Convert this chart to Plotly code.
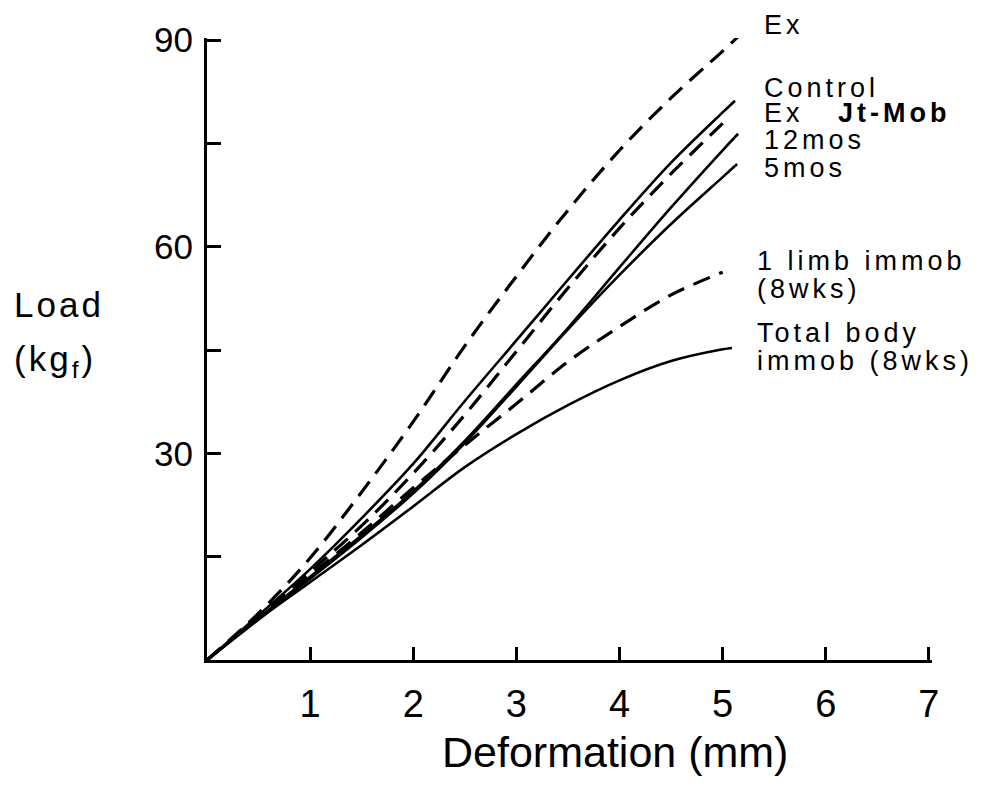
import plotly.graph_objects as go

# ---- data ----
ex_x = [0, 0.5, 1, 1.5, 2, 2.5, 3, 3.5, 4, 4.5, 5, 5.2]
ex_y = [0, 6.8, 14.8, 24.4, 34.6, 45.6, 55.7, 65.3, 74.0, 81.6, 88.4, 91.2]

control_x = [0, 0.5, 1, 1.5, 2, 2.5, 3, 3.5, 4, 4.5, 5, 5.12]
control_y = [0, 6.5, 13.2, 20.6, 28.5, 37.6, 46.4, 55.2, 63.9, 72.2, 79.5, 81.2]

exjt_x = [0, 0.5, 1, 1.5, 2, 2.5, 3, 3.5, 4, 4.5, 5, 5.04]
exjt_y = [0, 6.4, 12.8, 19.5, 27.1, 35.6, 44.8, 54.0, 62.7, 70.6, 77.9, 78.5]

m12_x = [0, 0.5, 1, 1.5, 2, 2.5, 3, 3.5, 4, 4.5, 5, 5.15]
m12_y = [0, 6.1, 12.1, 18.1, 24.5, 31.8, 40.0, 48.2, 57.0, 65.7, 74.0, 76.4]

m5_x = [0, 0.5, 1, 1.5, 2, 2.5, 3, 3.5, 4, 4.5, 5, 5.14]
m5_y = [0, 5.9, 11.8, 17.8, 24.2, 31.5, 39.7, 48.0, 55.9, 63.3, 70.1, 72.0]

limb_x = [0, 0.5, 1, 1.5, 2, 2.5, 3, 3.5, 4, 4.5, 5]
limb_y = [0, 6.3, 12.3, 18.5, 25.0, 31.2, 37.2, 43.3, 48.4, 53.0, 56.3]

total_x = [0, 0.5, 1, 1.5, 2, 2.5, 3, 3.5, 4, 4.5, 5, 5.09]
total_y = [0, 5.9, 11.3, 16.7, 22.3, 28.0, 32.8, 37.0, 40.6, 43.4, 45.1, 45.3]

x_tickvals = [1, 2, 3, 4, 5, 6, 7]
x_ticktext = ["1", "2", "3", "4", "5", "6", "7"]
y_tickvals = [15, 30, 45, 60, 75, 90]
y_ticktext = ["", "30", "", "60", "", "90"]

# curve labels: (text, paper x, paper y)
labels = [
    ("Ex", 0.766, 1.021),
    ("Control", 0.766, 0.920),
    ("Ex\u00a0\u00a0\u00a0<b>Jt-Mob</b>", 0.766, 0.879),
    ("12mos", 0.766, 0.836),
    ("5mos", 0.766, 0.791),
    ("1 limb immob", 0.756, 0.641),
    ("(8wks)", 0.756, 0.596),
    ("Total body", 0.756, 0.526),
    ("immob (8wks)", 0.756, 0.481),
]

FONT = "Liberation Sans, Arial, Helvetica, sans-serif"
DASH = "18px,10px"

fig = go.Figure()

def add(x, y, dashed=False, width=2.6):
    fig.add_trace(go.Scatter(
        x=x, y=y, mode="lines",
        line=dict(color="black", width=width, shape="spline", smoothing=1.0,
                  dash=DASH if dashed else "solid"),
        showlegend=False, hoverinfo="skip"))

add(total_x, total_y)
add(limb_x, limb_y, dashed=True, width=3.2)
add(m5_x, m5_y)
add(m12_x, m12_y)
add(exjt_x, exjt_y, dashed=True, width=3.2)
add(control_x, control_y)
add(ex_x, ex_y, dashed=True, width=3.2)

for text, lx, ly in labels:
    fig.add_annotation(
        x=lx, y=ly, xref="paper", yref="paper", xanchor="left", yanchor="middle",
        text='<span style="letter-spacing:4px">' + text + '</span>',
        showarrow=False, font=dict(family=FONT, size=27, color="black"))

# axis titles as annotations (horizontal y title)
fig.add_annotation(
    x=-0.269, y=0.571, xref="paper", yref="paper", xanchor="left", yanchor="middle",
    text='<span style="letter-spacing:3px">Load</span>', showarrow=False,
    font=dict(family=FONT, size=35, color="black"))
fig.add_annotation(
    x=-0.269, y=0.481, xref="paper", yref="paper", xanchor="left", yanchor="middle",
    text='<span style="letter-spacing:3px">(kg<sub>f</sub>)</span>', showarrow=False,
    font=dict(family=FONT, size=35, color="black"))
fig.add_annotation(
    x=0.563, y=-0.148, xref="paper", yref="paper", xanchor="center", yanchor="middle",
    text="Deformation (mm)", showarrow=False,
    font=dict(family=FONT, size=43, color="black"))

fig.update_xaxes(
    range=[0, 7.03], showline=True, linewidth=3, linecolor="black",
    ticks="inside", ticklen=13, tickwidth=2.5, tickcolor="black",
    tickvals=x_tickvals, ticktext=x_ticktext, ticklabelstandoff=8,
    tickfont=dict(family=FONT, size=38, color="black"),
    showgrid=False, zeroline=False)
fig.update_yaxes(
    range=[0, 90.3], showline=True, linewidth=3, linecolor="black",
    ticks="inside", ticklen=14, tickwidth=2.5, tickcolor="black",
    tickvals=y_tickvals, ticktext=y_ticktext, ticklabelstandoff=4,
    tickfont=dict(family=FONT, size=35, color="black"),
    showgrid=False, zeroline=False)

# page body has an 8px margin, so the figure is drawn 8px smaller
fig.update_layout(
    width=976, height=784,
    margin=dict(l=199, r=52, t=30, b=132, autoexpand=False),
    plot_bgcolor="white", paper_bgcolor="white",
    showlegend=False)

fig.write_html("out.html")
